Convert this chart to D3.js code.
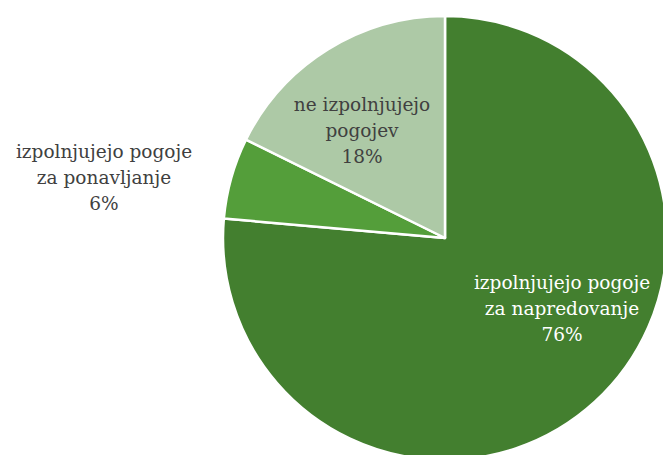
<!DOCTYPE html>
<html>
<head>
<meta charset="utf-8">
<script src="https://cdn.jsdelivr.net/npm/d3@7"></script>
<style>
  body { margin: 0; background: #fff; }
  svg { display: block; }
  .label { font-family: 'DejaVu Serif', serif; }
</style>
</head>
<body>
<div id="chart"></div>
<script>
const categories = ['izpolnjujejo pogoje za napredovanje', 'izpolnjujejo pogoje za ponavljanje', 'ne izpolnjujejo pogojev']
const values = [76.4, 5.9, 17.7]
const labelLines = [
  ['izpolnjujejo pogoje', 'za napredovanje', '76%'],
  ['izpolnjujejo pogoje', 'za ponavljanje', '6%'],
  ['ne izpolnjujejo', 'pogojev', '18%']
]
const colors = ['#437f2f', '#549e3a', '#adc9a6']
const textColors = ['#ffffff', '#404040', '#404040']
// label anchor relative to pie centre
const labelOffsets = [[117, 51], [-341, -80], [-83, -127]]

const width = 663
const height = 455
const cx = 445
const cy = 238
const radius = 222

const svg = d3.select('#chart')
  .append('svg')
  .attr('width', width)
  .attr('height', height)

const g = svg.append('g')
  .attr('transform', `translate(${cx},${cy})`)

const data = categories.map((c, i) => ({ name: c, value: values[i], i }))

const pie = d3.pie()
  .sort(null)
  .value(d => d.value)

const arc = d3.arc()
  .innerRadius(0)
  .outerRadius(radius)

g.selectAll('path.slice')
  .data(pie(data))
  .join('path')
  .attr('class', 'slice')
  .attr('d', arc)
  .attr('fill', d => colors[d.data.i])
  .attr('stroke', '#fff')
  .attr('stroke-width', 2.5)
  .attr('stroke-linejoin', 'round')

const lineHeight = 26

const labels = g.selectAll('text.label')
  .data(data)
  .join('text')
  .attr('class', 'label')
  .attr('text-anchor', 'middle')
  .attr('font-size', 18.5)
  .attr('fill', d => textColors[d.i])
  .attr('transform', d => `translate(${labelOffsets[d.i][0]},${labelOffsets[d.i][1]})`)

labels.selectAll('tspan')
  .data(d => labelLines[d.i])
  .join('tspan')
  .attr('x', 0)
  .attr('y', (d, i) => i * lineHeight)
  .text(d => d)
</script>
</body>
</html>
